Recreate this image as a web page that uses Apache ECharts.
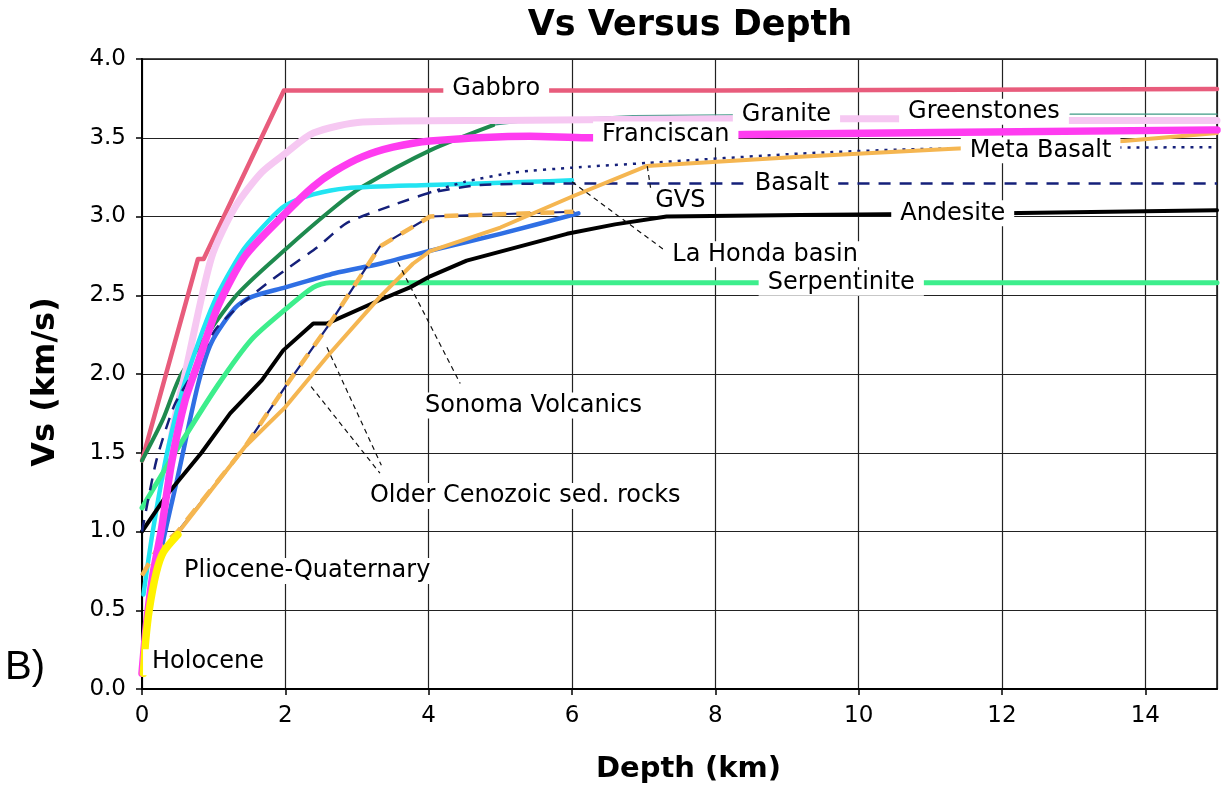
<!DOCTYPE html>
<html>
<head>
<meta charset="utf-8">
<script src="https://cdn.jsdelivr.net/npm/echarts@6/dist/echarts.min.js"></script>
<style>
html,body{margin:0;padding:0;background:#fff;}
#chart{width:1225px;height:787px;}
</style>
</head>
<body>
<div id="chart"></div>
<script>
// ---- data (depth km, Vs km/s) ----
var gabbro = [[0,1.45],[0.78,2.73],[0.86,2.73],[1.98,3.80],[8,3.80],[15,3.81]];
var granite = [[0.32,1.35],[0.45,1.70],[0.60,2.00],[0.97,2.74],[1.30,3.06],[1.67,3.28],[2.00,3.40],[2.39,3.53],[3.08,3.60],[5.0,3.61],[8.2,3.62],[10.5,3.62],[12.5,3.61],[15,3.61]];
var franciscan = [[0,0.10],[0.06,0.40],[0.15,0.72],[0.27,1.01],[0.41,1.43],[0.60,1.83],[0.78,2.07],[1.06,2.43],[1.44,2.75],[2.0,3.02],[2.39,3.19],[2.7,3.29],[3.08,3.38],[3.5,3.44],[4.02,3.48],[5.41,3.51],[6.2,3.50],[8.41,3.52],[15,3.55]];
var laHonda = [[0.02,0.60],[0.15,1.00],[0.35,1.50],[0.60,1.95],[1.0,2.45],[1.4,2.78],[1.76,2.97],[2.0,3.07],[2.39,3.14],[2.86,3.18],[4.0,3.20],[5.41,3.22],[6.0,3.23]];
var greenstones = [[0,1.45],[0.29,1.71],[0.55,2.00],[1.30,2.49],[2.0,2.79],[2.69,3.06],[3.08,3.19],[4.02,3.42],[4.9,3.58]];
var greenstonesTail = [[4.9,3.58],[5.5,3.61],[6.85,3.64],[8.25,3.645],[8.3,'-'],[12.95,3.65],[15,3.65]];
var sonoma = [[0.22,0.75],[0.30,0.95],[0.50,1.35],[0.78,1.93],[0.97,2.20],[1.30,2.42],[1.53,2.49],[2.0,2.55],[2.69,2.64],[3.32,2.70],[4.0,2.78],[5.0,2.89],[6.09,3.02]];
var serpentinite = [[0,1.15],[0.46,1.50],[1.06,1.93],[1.53,2.22],[2.0,2.41],[2.39,2.55],[2.62,2.58],[3.5,2.58],[15,2.58]];
var andesite = [[0,1.00],[0.36,1.24],[0.83,1.50],[1.23,1.75],[1.67,1.96],[1.97,2.15],[2.39,2.32],[2.58,2.32],[3.32,2.47],[3.74,2.55],[4.02,2.62],[4.53,2.72],[5.93,2.89],[6.6,2.95],[7.32,3.00],[9.18,3.01],[12,3.02],[15,3.04]];
var gvs = [[0.50,0.99],[1.44,1.54],[2.0,1.79],[2.62,2.13],[3.32,2.49],[3.78,2.70],[4.02,2.78],[5.0,2.93],[6.02,3.13],[7.04,3.32]];
var metaBasalt = [[7.04,3.32],[9.18,3.38],[11.32,3.43],[13.7,3.48],[15,3.53]];
var metaBasaltDotted = [[4.0,3.15],[4.5,3.22],[5.2,3.28],[6.0,3.31],[7.05,3.34],[9.2,3.40],[11.0,3.43],[15,3.44]];
var basalt = [[0,1.00],[0.2,1.45],[0.45,1.80],[0.74,2.03],[1.02,2.28],[1.40,2.45],[1.76,2.58],[2.0,2.66],[2.46,2.81],[2.86,2.96],[3.55,3.08],[4.02,3.15],[4.72,3.20],[6,3.21],[15,3.21]];
var olderCenozoic = [[0,0.72],[0.2,0.88],[0.5,1.0],[1.44,1.54],[2.0,1.92],[2.62,2.32],[3.32,2.81],[4.02,3.00],[6.02,3.03]];
var holocene = [[0.02,0.10],[0.05,0.30],[0.10,0.50],[0.20,0.74],[0.30,0.87],[0.50,0.98]];

// leader lines (data units)
var leaderLaHonda = [[6.0,3.22],[7.34,2.77]];
var leaderGVS = [[7.05,3.32],[7.10,3.17]];
var leaderSonoma = [[3.57,2.71],[4.44,1.94]];
var leaderOlderA = [[2.36,1.92],[3.32,1.37]];
var leaderOlderB = [[2.58,2.17],[3.34,1.42]];

// labels
var labelNames = ['Gabbro','Granite','Greenstones','Franciscan','Meta Basalt','Basalt','GVS','Andesite','La Honda basin','Serpentinite','Sonoma Volcanics','Older Cenozoic sed. rocks','Pliocene-Quaternary','Holocene'];
var labelX = [4.33,8.37,10.69,6.42,11.55,8.55,7.16,10.58,7.40,8.73,3.95,3.18,0.586,0.14];
var labelY = [3.81,3.645,3.665,3.52,3.42,3.21,3.10,3.02,2.76,2.58,1.80,1.225,0.75,0.17];

var xTickLabels = ['0','2','4','6','8','10','12','14'];
var yTickLabels = ['0.0','0.5','1.0','1.5','2.0','2.5','3.0','3.5','4.0'];

function line(name, data, color, width, opts) {
  var s = {
    name: name, type: 'line', data: data, showSymbol: false, symbol: 'none',
    lineStyle: {color: color, width: width, type: 'solid', cap: 'round', join: 'round'},
    silent: true, animation: false
  };
  if (opts) { for (var k in opts) { if (k === 'lineStyle') { for (var j in opts.lineStyle) s.lineStyle[j] = opts.lineStyle[j]; } else s[k] = opts[k]; } }
  return s;
}
var smooth = {smooth: 0.25};
function leader(d){ return line('leader', d, '#111', 1.2, {lineStyle:{type:[5,4], cap:'butt'}}); }

var chart = echarts.init(document.getElementById('chart'), null, {renderer: 'canvas'});
var font = 'DejaVu Sans, Verdana, sans-serif';

var option = {
  animation: false,
  backgroundColor: '#fff',
  title: {
    text: 'Vs Versus Depth', left: 685, top: 3, textAlign: 'center',
    textStyle: {fontFamily: font, fontWeight: 'bold', fontSize: 35, color: '#000'}
  },
  grid: {left: 142, right: 8, top: 59, bottom: 98, outerBoundsMode: 'none', containLabel: false,
    show: true, borderColor: '#111', borderWidth: 1.5, backgroundColor: 'transparent'},
  xAxis: {
    type: 'value', min: 0, max: 15, interval: 2,
    name: 'Depth (km)', nameLocation: 'middle', nameGap: 66,
    nameTextStyle: {fontFamily: font, fontWeight: 'bold', fontSize: 29, color: '#000', padding: [0, 0, 0, 18]},
    axisLine: {show: true, onZero: false, lineStyle: {color: '#000', width: 2}},
    axisTick: {show: true, length: 6, lineStyle: {color: '#000', width: 1.5}},
    axisLabel: {fontFamily: font, fontSize: 23, color: '#000', margin: 16, showMaxLabel: false,
      formatter: function(v){ var i = Math.round(v/2); return (v % 2 === 0 && xTickLabels[i] !== undefined) ? xTickLabels[i] : ''; }},
    splitLine: {show: true, lineStyle: {color: '#222', width: 1.2}}
  },
  yAxis: {
    type: 'value', min: 0, max: 4, interval: 0.5,
    name: 'Vs (km/s)', nameLocation: 'middle', nameGap: 80, nameRotate: 90,
    nameTextStyle: {fontFamily: font, fontWeight: 'bold', fontSize: 32, color: '#000', padding: [0, 16, 0, 0]},
    axisLine: {show: true, lineStyle: {color: '#000', width: 2}},
    axisTick: {show: true, length: 6, lineStyle: {color: '#000', width: 1.5}},
    axisLabel: {fontFamily: font, fontSize: 23, color: '#000', margin: 16,
      formatter: function(v){ var i = Math.round(v/0.5); return yTickLabels[i] || ''; }},
    splitLine: {show: true, lineStyle: {color: '#222', width: 1.2}}
  },
  graphic: [{
    type: 'text', left: 5, top: 648,
    style: {text: 'B)', fontFamily: 'Liberation Sans, Arial, sans-serif', fontSize: 40, fill: '#000'}
  }],
  series: [
    line('Greenstones tail', greenstonesTail, '#3f9b86', 1.3, {connectNulls: false}),
    line('Gabbro', gabbro, '#E85C7C', 4.5),
    line('Greenstones', greenstones, '#1E8A4E', 4, smooth),
    line('Granite', granite, '#F6C8F2', 7, smooth),
    line('La Honda basin', laHonda, '#22E4F2', 4.5, smooth),
    line('Sonoma Volcanics', sonoma, '#2F6FE4', 4.5, smooth),
    line('Serpentinite', serpentinite, '#3DEE8C', 5, smooth),
    line('Andesite', andesite, '#000000', 4),
    line('Basalt', basalt, '#15207A', 2.5, {smooth: 0.2, lineStyle: {type: [12, 9], cap: 'butt'}}),
    line('Meta Basalt dotted', metaBasaltDotted, '#15207A', 2.5, {smooth: 0.2, lineStyle: {type: [3, 6], cap: 'butt'}}),
    line('Older Cenozoic base', olderCenozoic.slice(2), '#15207A', 2.2),
    line('Older Cenozoic sed. rocks', olderCenozoic, '#F5B651', 4.5, {lineStyle: {type: [14, 10], cap: 'butt'}}),
    line('GVS', gvs, '#F5B651', 4),
    line('Meta Basalt', metaBasalt, '#F5B651', 4),
    line('Franciscan', franciscan, '#FF3CF0', 7.5, smooth),
    line('Holocene', holocene, '#FFF200', 7.5, smooth),
    leader(leaderLaHonda), leader(leaderGVS), leader(leaderSonoma), leader(leaderOlderA), leader(leaderOlderB),
    {
      name: 'labels', type: 'scatter', z: 10, silent: true, animation: false,
      symbolSize: 0, itemStyle: {color: '#fff', opacity: 1},
      data: labelNames.map(function(n, i){ return [labelX[i], labelY[i], n]; }),
      label: {
        show: true, position: 'right', distance: 0, offset: [-9, 0],
        formatter: function(p){ return p.data[2]; },
        fontFamily: font, fontSize: 24, color: '#000', opacity: 1,
        backgroundColor: '#fff', padding: [1, 9, 1, 9]
      }
    }
  ]
};
chart.setOption(option);
</script>
</body>
</html>
